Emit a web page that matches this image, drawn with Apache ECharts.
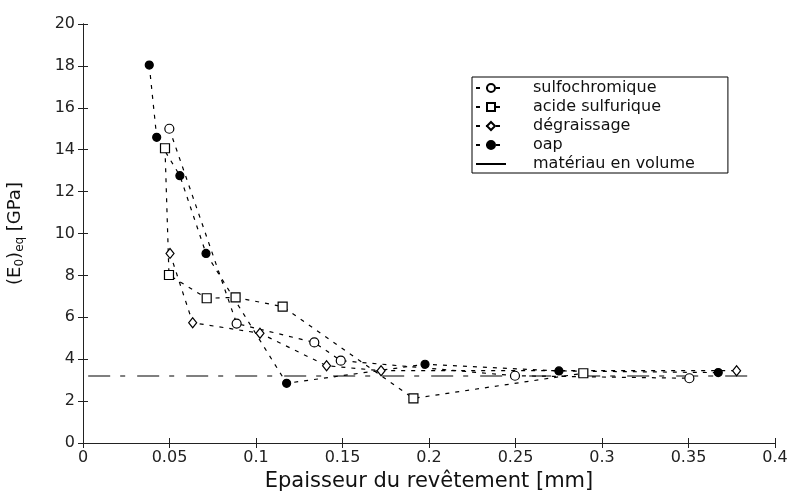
<!DOCTYPE html>
<html><head><meta charset="utf-8">
<script src="https://cdn.jsdelivr.net/npm/echarts@6/dist/echarts.min.js"></script>
<style>html,body{margin:0;padding:0;background:#fff}#c{width:790px;height:492px}</style>
</head><body><div id="c"></div>
<script>
const xTicks = { min: 0, max: 0.4, interval: 0.05 };
const yTicks = { min: 0, max: 20, interval: 2 };
const seriesNames = ['sulfochromique', 'acide sulfurique', 'dégraissage', 'oap', 'matériau en volume'];
const sulfoX = [0.0499, 0.0888, 0.1337, 0.149, 0.2497, 0.3505];
const sulfoY = [15.0, 5.7, 4.8, 3.93, 3.21, 3.09];
const acideX = [0.0474, 0.0497, 0.0715, 0.0882, 0.1154, 0.191, 0.2892];
const acideY = [14.07, 8.02, 6.91, 6.95, 6.51, 2.13, 3.33];
const degrX = [0.0503, 0.0634, 0.1023, 0.1408, 0.1723, 0.3778];
const degrY = [9.05, 5.74, 5.24, 3.69, 3.45, 3.45];
const oapX = [0.0383, 0.0426, 0.056, 0.0711, 0.1177, 0.1977, 0.2751, 0.3672];
const oapY = [18.04, 14.59, 12.76, 9.05, 2.85, 3.76, 3.44, 3.36];
const bulkX = [0.003, 0.389];
const bulkY = [3.2, 3.2];

const zip = (xs, ys) => xs.map((x, i) => [x, ys[i]]);
const FONT = 'DejaVu Sans';
const dash = [4, 6];
const lineSeries = (name, xs, ys, symbol, size, fill) => ({
  name, type: 'line', data: zip(xs, ys), symbol, symbolSize: size,
  showAllSymbol: true,
  lineStyle: { color: '#000', width: 1.2, type: dash },
  itemStyle: { color: fill, borderColor: '#000', borderWidth: 1.2 },
  emphasis: { disabled: true }, animation: false, z: 3
});

const chart = echarts.init(document.getElementById('c'), null, { renderer: 'canvas' });
const axisCommon = {
  axisLine: { show: true, lineStyle: { color: '#222', width: 1 } },
  axisTick: { show: true, inside: true, length: 5, lineStyle: { color: '#222' } },
  splitLine: { show: false }
};
chart.setOption({
  backgroundColor: '#fff',
  animation: false,
  textStyle: { fontFamily: FONT },
  grid: { left: 83, right: 15, top: 24, bottom: 49, containLabel: false, outerBoundsMode: 'none' },
  legend: {
    orient: 'vertical', left: 472, top: 77,
    padding: [3, 33, 1, 3], itemGap: 3, itemWidth: 30, itemHeight: 10,
    borderColor: '#000', borderWidth: 1, backgroundColor: '#fff',
    textStyle: { fontFamily: FONT, fontSize: 16, lineHeight: 16, color: '#111', padding: [0, 0, 0, 22] },
    data: [
      { name: seriesNames[0] }, { name: seriesNames[1] }, { name: seriesNames[2] }, { name: seriesNames[3] },
      { name: seriesNames[4], icon: 'path://M0,4 L30,4 L30,6 L0,6 Z', itemStyle: { color: '#000' } }
    ],
    selectedMode: false
  },
  xAxis: [
    Object.assign({
      type: 'value', position: 'bottom', min: xTicks.min, max: xTicks.max, interval: xTicks.interval,
      name: 'Epaisseur du revêtement [mm]', nameLocation: 'middle', nameGap: 25,
      nameTextStyle: { fontFamily: FONT, fontSize: 21, color: '#111' },
      axisLabel: { fontFamily: FONT, fontSize: 16, color: '#222', margin: 7 }
    }, axisCommon),
    Object.assign({
      type: 'value', position: 'top', min: xTicks.min, max: xTicks.max, interval: xTicks.interval,
      axisLabel: { show: false }
    }, axisCommon)
  ],
  yAxis: [
    Object.assign({
      type: 'value', position: 'left', min: yTicks.min, max: yTicks.max, interval: yTicks.interval,
      name: '{n|(E}{s|0}{n|)}{s|eq}{n| [GPa]}', nameLocation: 'middle', nameGap: 57, nameRotate: 90,
      nameTextStyle: {
        fontFamily: FONT, color: '#111',
        rich: {
          n: { fontFamily: FONT, fontSize: 18, color: '#111' },
          s: { fontFamily: FONT, fontSize: 12, color: '#111', padding: [10, 0, 0, 0] }
        }
      },
      axisLabel: { fontFamily: FONT, fontSize: 16, color: '#222', margin: 8 }
    }, axisCommon),
    Object.assign({
      type: 'value', position: 'right', min: yTicks.min, max: yTicks.max, interval: yTicks.interval,
      axisLabel: { show: false }
    }, axisCommon)
  ],
  series: [
    {
      name: seriesNames[4], type: 'line', data: zip(bulkX, bulkY), symbol: 'none',
      lineStyle: { color: '#555', width: 1.6, type: [22, 10, 5, 12] },
      itemStyle: { color: '#000' }, emphasis: { disabled: true }, z: 2
    },
    lineSeries(seriesNames[0], sulfoX, sulfoY, 'circle', 9, '#fff'),
    lineSeries(seriesNames[1], acideX, acideY, 'rect', 9, '#fff'),
    lineSeries(seriesNames[2], degrX, degrY, 'diamond', [8, 10], '#fff'),
    lineSeries(seriesNames[3], oapX, oapY, 'circle', 8, '#000')
  ]
});
</script></body></html>
